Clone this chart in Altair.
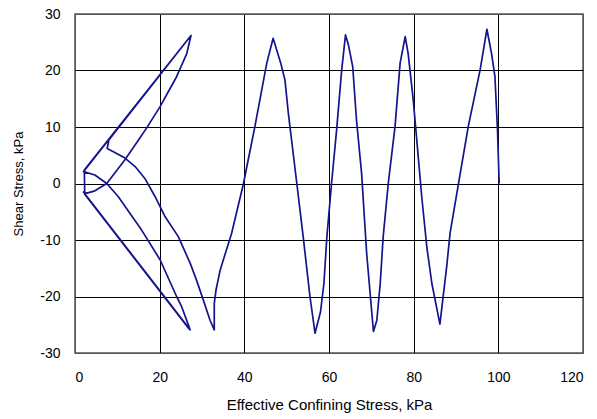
import altair as alt
import pandas as pd

# Stress path: effective confining stress (kPa) and shear stress (kPa), in path order
p_eff = [
    100.2, 99.8, 99.2, 98.4, 97.3,
    95.7, 92.9, 91.0, 88.6, 87.8, 86.2,
    84.3, 83.1, 81.9, 79.9, 78.7, 78.0,
    76.8, 75.6, 74.0, 72.8, 72.1, 71.3, 70.5,
    68.9, 67.7, 66.5, 65.6, 64.6, 63.9,
    63.0, 61.8, 60.6, 59.5, 58.8, 58.0, 56.7,
    55.5, 53.9, 52.4, 50.4, 49.6, 48.6, 46.8,
    45.3, 42.5, 39.8, 37.0, 34.3, 33.3, 32.9, 32.9,
    31.9, 30.3, 28.7, 27.2, 24.4, 21.3, 18.9, 16.5, 14.2, 11.8, 9.4, 7.6, 8.0,
    27.4,
    26.4, 24.0, 22.0, 20.1, 16.9, 15.0, 11.8, 7.5, 4.7, 2.8, 2.0,
    27.2,
    25.2, 24.0, 20.1, 15.7, 13.0, 10.2, 7.5, 4.7, 2.0,
    27.4,
    2.2, 2.3, 27.0,
]
shear = [
    0.0, 9.5, 18.9, 23.0, 27.3,
    20.1, 10.1, 1.8, -8.8, -14.7, -24.9,
    -17.7, -11.2, -2.3, 14.8, 23.0, 26.0,
    21.3, 10.1, 0.0, -9.4, -17.7, -24.2, -26.2,
    -12.4, 1.8, 11.2, 20.7, 24.5, 26.3,
    20.1, 9.5, 0.0, -9.4, -17.7, -22.7, -26.5,
    -20.0, -9.4, 0.0, 12.4, 18.3, 21.3, 25.7,
    21.3, 10.1, 0.0, -8.8, -15.3, -18.9, -21.2, -25.9,
    -24.2, -20.6, -17.1, -14.1, -9.4, -5.9, -2.3, 0.9, 3.0, 4.5, 5.5, 6.2, 7.7,
    26.2,
    23.0, 18.9, 16.2, 13.6, 9.8, 7.7, 4.2, 0.0, -1.3, -1.7, -1.5,
    -25.9,
    -21.8, -20.0, -13.5, -8.2, -5.3, -2.3, 0.0, 1.5, 2.1,
    26.2,
    2.4, -1.9, -25.8,
]

x_ticks = [0, 20, 40, 60, 80, 100, 120]
y_ticks = [-30, -20, -10, 0, 10, 20, 30]

df = pd.DataFrame({"i": list(range(len(p_eff))), "p": p_eff, "q": shear})

FONT = "Liberation Sans"
edge_x = "datum.value === 0 || datum.value === 120"
edge_y = "datum.value === -30 || datum.value === 30"

chart = (
    alt.Chart(df)
    .mark_line(color="#14148c", strokeWidth=1.7, strokeJoin="round")
    .encode(
        x=alt.X(
            "p:Q",
            scale=alt.Scale(domain=[0, 120], nice=False, zero=False),
            axis=alt.Axis(
                values=x_ticks,
                labelExpr="toString(datum.value)",
                title="Effective Confining Stress, kPa",
                grid=True,
                gridColor={"condition": {"test": edge_x, "value": "#555555"}, "value": "#000000"},
                gridWidth=1,
                ticks=False,
                domain=False,
                labelPadding=17,
                labelFont=FONT,
                labelFontSize=14,
                labelColor="#000000",
                titleFont=FONT,
                titleFontSize=15,
                titleFontWeight="normal",
                titleColor="#000000",
                titlePadding=13,
            ),
        ),
        y=alt.Y(
            "q:Q",
            scale=alt.Scale(domain=[-30, 30], nice=False, zero=False),
            axis=alt.Axis(
                values=y_ticks,
                labelExpr="toString(datum.value)",
                title="Shear Stress, kPa",
                grid=True,
                gridColor={"condition": {"test": edge_y, "value": "#555555"}, "value": "#000000"},
                gridWidth=1,
                ticks=False,
                domain=False,
                labelPadding=15,
                labelFont=FONT,
                labelFontSize=14,
                labelColor="#000000",
                titleFont=FONT,
                titleFontSize=13,
                titleFontWeight="normal",
                titleColor="#000000",
                titlePadding=14,
            ),
        ),
        order="i:Q",
    )
    .properties(
        width=508,
        height=339,
        padding={"left": 75, "top": 14, "right": 14, "bottom": 66},
        autosize=alt.AutoSizeParams(type="none"),
        background="white",
    )
    .configure_view(stroke="#555555", strokeWidth=1.5)
)

chart.save("out.html", embed_options={"renderer": "svg", "actions": False})
